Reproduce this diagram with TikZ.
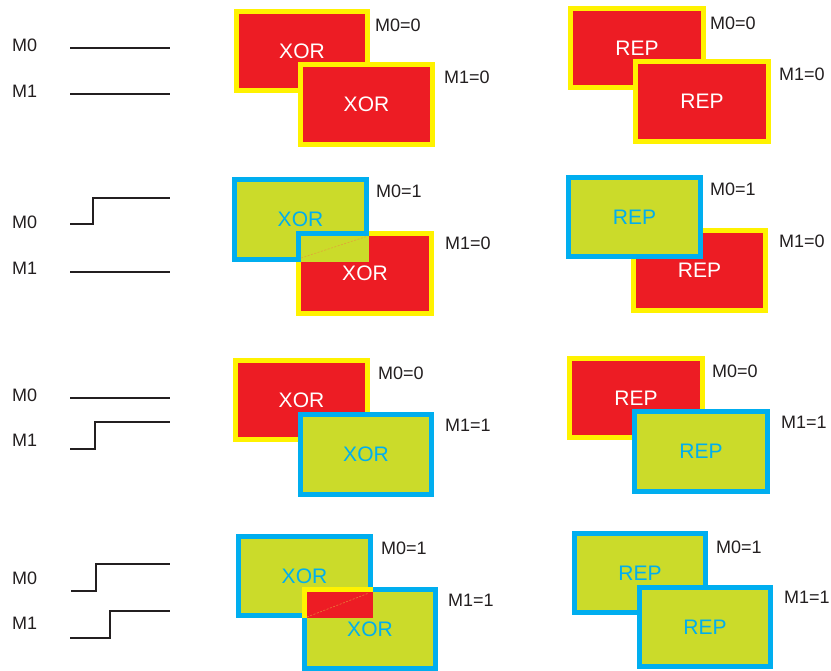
\documentclass[tikz,border=0pt]{standalone}
\usepackage{fontspec}
\setmainfont{Liberation Sans}
\usetikzlibrary{calc}
\definecolor{cred}{RGB}{237,28,36}
\definecolor{cyel}{RGB}{255,242,0}
\definecolor{cgrn}{RGB}{203,219,42}
\definecolor{cblu}{RGB}{0,174,239}
\definecolor{ctxt}{RGB}{35,31,32}
\definecolor{cdiag}{RGB}{230,150,60}
\tikzset{
  box/.style={rectangle, line width=5pt, outer sep=2.5pt, inner sep=0pt, font=\fontsize{21}{21}\selectfont},
  off/.style={box, draw=cyel, fill=cred, text=white},
  on/.style={box, draw=cblu, fill=cgrn, text=cblu},
  lab/.style={anchor=west, inner sep=0pt, text=ctxt, font=\fontsize{18}{18}\selectfont},
  sig/.style={line width=2.6pt, draw=ctxt},
  diag/.style={draw=cdiag, line width=0.6pt, dash pattern=on 2pt off 1.5pt, opacity=0.8}
}
\newcommand\bx[7]{\node[#6, minimum width={(#4-#2-5)*1pt}, minimum height={(#5-#3-5)*1pt}] (#1) at ({(#2+#4)/2},{(#3+#5)/2}) {#7};}
\begin{document}
\begin{tikzpicture}[x=1pt,y=-1pt]
\useasboundingbox (0,0) rectangle (831,671);

% ---------- left column: signals ----------
\node[lab] (l1a) at (12,45) {M0};
\node[lab] (l1b) at (12,91) {M1};
\draw[sig] (70,48) -- (170,48);
\draw[sig] (70,94) -- (170,94);

\node[lab] (l2a) at (12,222) {M0};
\node[lab] (l2b) at (12,268) {M1};
\draw[sig] (70,224) -- (93,224) -- (93,198) -- (170,198);
\draw[sig] (70,272) -- (170,272);

\node[lab] (l3a) at (12,395) {M0};
\node[lab] (l3b) at (12,440) {M1};
\draw[sig] (70,398) -- (170,398);
\draw[sig] (70,449) -- (95,449) -- (95,422) -- (170,422);

\node[lab] (l4a) at (12,578) {M0};
\node[lab] (l4b) at (12,623) {M1};
\draw[sig] (71,591) -- (96,591) -- (96,564) -- (170,564);
\draw[sig] (70,638) -- (110,638) -- (110,611) -- (170,611);

% ---------- row 1 ----------
\bx{x1a}{234}{9}{370}{93}{off}{XOR}
\bx{x1b}{298}{62}{435}{147}{off}{XOR}
\node[lab] (t1a) at (375,25) {M0=0};
\node[lab] (t1b) at (444,77) {M1=0};

\bx{r1a}{568}{6}{706}{90}{off}{REP}
\bx{r1b}{633}{59}{771}{144}{off}{REP}
\node[lab] (u1a) at (710,23) {M0=0};
\node[lab] (u1b) at (779,74) {M1=0};

% ---------- row 2 ----------
\bx{x2a}{232}{177}{369}{262}{on}{XOR}
\bx{x2b}{296}{231}{434}{316}{off}{XOR}
\fill[cgrn] (x2b.north west) rectangle (x2a.south east);
\draw[cblu, line width=5pt] ($(x2b.north west |- x2a.south east)+(2.5,0)$) -- ($(x2b.north west)+(2.5,2.5)$) -- ($(x2a.south east |- x2b.north west)+(0,2.5)$);
\draw[diag] ($(x2b.north west |- x2a.south east)+(5,-4)$) -- ($(x2a.south east |- x2b.north west)+(-1,5)$);
\node[lab] (t2a) at (376,191) {M0=1};
\node[lab] (t2b) at (445,243) {M1=0};

\bx{r2b}{631}{228}{768}{313}{off}{REP}
\bx{r2a}{566}{175}{703}{259}{on}{REP}
\node[lab] (u2a) at (710,189) {M0=1};
\node[lab] (u2b) at (779,241) {M1=0};

% ---------- row 3 ----------
\bx{x3a}{233}{358}{370}{442}{off}{XOR}
\bx{x3b}{298}{412}{434}{497}{on}{XOR}
\node[lab] (t3a) at (378,373) {M0=0};
\node[lab] (t3b) at (445,425) {M1=1};

\bx{r3a}{567}{356}{705}{440}{off}{REP}
\bx{r3b}{632}{409}{770}{494}{on}{REP}
\node[lab] (u3a) at (712,371) {M0=0};
\node[lab] (u3b) at (781,422) {M1=1};

% ---------- row 4 ----------
\bx{x4a}{236}{534}{373}{618}{on}{XOR}
\bx{x4b}{302}{587}{438}{671}{on}{XOR}
\fill[cred] (x4b.north west) rectangle (x4a.south east);
\draw[cyel, line width=5pt] ($(x4b.north west |- x4a.south east)+(2.5,0)$) -- ($(x4b.north west)+(2.5,2.5)$) -- ($(x4a.south east |- x4b.north west)+(0,2.5)$);
\draw[diag] ($(x4b.north west |- x4a.south east)+(5,-1)$) -- ($(x4a.south east |- x4b.north west)+(-4,6)$);
\node[lab] (t4a) at (381,548) {M0=1};
\node[lab] (t4b) at (448,600) {M1=1};

\bx{r4a}{572}{531}{708}{615}{on}{REP}
\bx{r4b}{637}{585}{773}{669}{on}{REP}
\node[lab] (u4a) at (716,547) {M0=1};
\node[lab] (u4b) at (784,597) {M1=1};
\end{tikzpicture}
\end{document}
